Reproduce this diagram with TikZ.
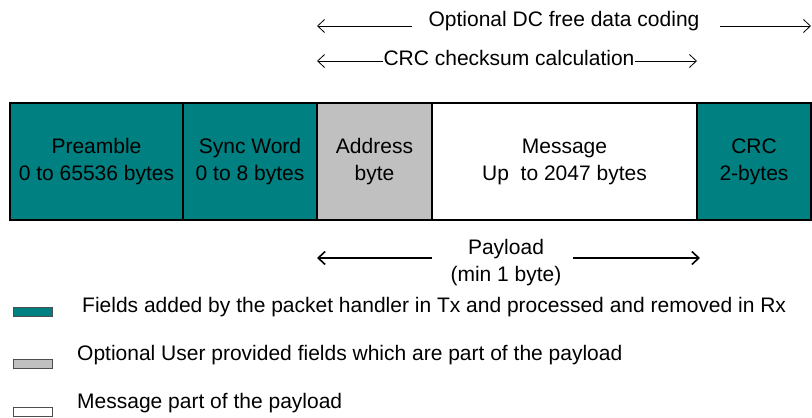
\documentclass[tikz,border=0pt]{standalone}
\usepackage{fontspec}
\setmainfont{Liberation Sans}
\usetikzlibrary{positioning,arrows.meta}
\definecolor{pktteal}{RGB}{0,128,128}
\definecolor{pktgray}{RGB}{192,192,192}
\newcommand\pktfont{\fontsize{21}{27}\selectfont}
\tikzset{
  field/.style={draw, line width=1.3pt, minimum height=117pt, inner sep=0pt, outer sep=0pt, align=center, font=\pktfont},
  lbl/.style={inner sep=0pt, font=\pktfont},
  span/.style={-{Straight Barb[length=7pt,width=13pt]}, line width=0.8pt},
  legbox/.style={draw=black!70, line width=1pt, minimum width=39pt, minimum height=9pt, inner sep=0pt, anchor=south west}
}
\begin{document}
\begin{tikzpicture}[x=1pt,y=-1pt]
\useasboundingbox (0,0) rectangle (812,418);
% packet fields
\node[field, fill=pktteal, minimum width=173pt, anchor=north west](pre) at (10,103) {Preamble\\0 to 65536 bytes};
\node[field, fill=pktteal, minimum width=134pt, right=0pt of pre](sync) {Sync Word\\0 to 8 bytes};
\node[field, fill=pktgray, minimum width=115pt, right=0pt of sync](addr) {Address\\byte};
\node[field, fill=white, minimum width=265pt, right=0pt of addr](msg) {Message\\Up\ \ to 2047 bytes};
\node[field, fill=pktteal, minimum width=114pt, right=0pt of msg](crc) {CRC\\2-bytes};
% spans above
\node[lbl, anchor=base](dc) at (564,26) {Optional DC free data coding};
\coordinate (dcL1) at (412,26);
\coordinate (dcL2) at (317,26);
\coordinate (dcR1) at (720,26);
\coordinate (dcR2) at (811,26);
\draw[span] (dcL1) -- (dcL2);
\draw[span] (dcR1) -- (dcR2);
\node[lbl, anchor=base](chk) at (509,65) {CRC checksum calculation};
\coordinate (chkL) at (317,61);
\coordinate (chkR) at (697,61);
\draw[span] (chk.west |- chkL) -- (chkL);
\draw[span] (chk.east |- chkR) -- (chkR);
% payload
\node[lbl, align=center](pay) at (506,263) {Payload\\(min 1 byte)};
\coordinate (payL1) at (432,258);
\coordinate (payL2) at (317,258);
\coordinate (payR1) at (573,258);
\coordinate (payR2) at (700,258);
\draw[span, line width=1.6pt] (payL1) -- (payL2);
\draw[span, line width=1.6pt] (payR1) -- (payR2);
% legend
\node[legbox, fill=pktteal](k1) at (13,317) {};
\node[lbl, anchor=base west](t1) at (82,312) {Fields added by the packet handler in Tx and processed and removed in Rx};
\node[legbox, fill=pktgray](k2) at (13,369) {};
\node[lbl, anchor=base west](t2) at (77,360) {Optional User provided fields which are part of the payload};
\node[legbox, fill=white](k3) at (13,417) {};
\node[lbl, anchor=base west](t3) at (77,408) {Message part of the payload};
\end{tikzpicture}
\end{document}
